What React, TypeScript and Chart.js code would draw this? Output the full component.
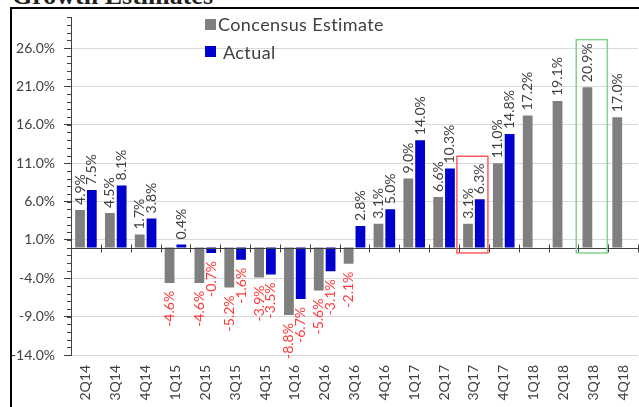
import React, { useEffect, useRef } from 'react';
import { Chart, registerables } from 'chart.js';

Chart.register(...registerables);

const categories = ['2Q14', '3Q14', '4Q14', '1Q15', '2Q15', '3Q15', '4Q15', '1Q16', '2Q16', '3Q16', '4Q16', '1Q17', '2Q17', '3Q17', '4Q17', '1Q18', '2Q18', '3Q18', '4Q18'];
const consensus = [4.9, 4.5, 1.7, -4.6, -4.6, -5.2, -3.9, -8.8, -5.6, -2.1, 3.1, 9.0, 6.6, 3.1, 11.0, 17.2, 19.1, 20.9, 17.0];
const actual: (number | null)[] = [7.5, 8.1, 3.8, 0.4, -0.7, -1.6, -3.5, -6.7, -3.1, 2.8, 5.0, 14.0, 10.3, 6.3, 14.8, null, null, null, null];
const yTickValues = [-14, -9, -4, 1, 6, 11, 16, 21, 26];
const yMin = -14;
const yMax = 30;
const highlights = [
  { category: '3Q17', top: 11.9, bottom: -0.7, color: '#ff5a5a' },
  { category: '3Q18', top: 27.1, bottom: -0.7, color: '#7fd48e' },
];
const seriesNames = ['Concensus Estimate', 'Actual'];
const seriesColors = ['#7f7f7f', '#0000cc'];

const FONT = 'Lato, "Open Sans", sans-serif';
const TEXT = '#404040';

const overlayPlugin = {
  id: 'overlay',
  afterDatasetsDraw(chart: any) {
    const { ctx, chartArea, scales } = chart;
    const x = scales.x;
    const y = scales.y;
    const y0 = Math.round(y.getPixelForValue(0)) + 0.5;
    ctx.save();
    ctx.strokeStyle = TEXT;
    ctx.lineWidth = 1;
    ctx.beginPath();
    ctx.moveTo(chartArea.left, y0);
    ctx.lineTo(chartArea.right, y0);
    for (let i = 1; i <= categories.length; i++) {
      const px = Math.round(x.getPixelForValue(i - 0.5)) + 0.5;
      ctx.moveTo(px, y0 - 4);
      ctx.lineTo(px, y0 + 4);
    }
    for (let v = yMin; v <= yMax; v++) {
      const py = Math.round(y.getPixelForValue(v)) + 0.5;
      ctx.moveTo(chartArea.left - 4, py);
      ctx.lineTo(chartArea.left, py);
    }
    ctx.stroke();

    // data labels
    ctx.font = `14px ${FONT}`;
    ctx.textBaseline = 'middle';
    chart.data.datasets.forEach((ds: any, di: number) => {
      const meta = chart.getDatasetMeta(di);
      meta.data.forEach((el: any, i: number) => {
        const v = ds.data[i];
        if (v === null || v === undefined) return;
        const txt = v.toFixed(1) + '%';
        ctx.save();
        ctx.translate(el.x, v >= 0 ? el.y - 5 : el.y + 8);
        ctx.rotate(-Math.PI / 2);
        ctx.fillStyle = v >= 0 ? TEXT : '#ff3838';
        ctx.textAlign = v >= 0 ? 'left' : 'right';
        ctx.fillText(txt, 0, 0);
        ctx.restore();
      });
    });

    // highlight boxes
    ctx.lineWidth = 1.5;
    highlights.forEach((h) => {
      const idx = categories.indexOf(h.category);
      const l = x.getPixelForValue(idx - 0.57);
      const r = x.getPixelForValue(idx + 0.47);
      const t = y.getPixelForValue(h.top);
      const b = y.getPixelForValue(h.bottom);
      ctx.strokeStyle = h.color;
      ctx.strokeRect(l, t, r - l, b - t);
    });
    ctx.restore();
  },
};

export default function App() {
  const canvasRef = useRef<HTMLCanvasElement | null>(null);

  useEffect(() => {
    if (!canvasRef.current) return;
    const chart = new Chart(canvasRef.current, {
      type: 'bar',
      data: {
        labels: categories,
        datasets: [
          { label: seriesNames[0], data: consensus, backgroundColor: seriesColors[0], categoryPercentage: 0.79, barPercentage: 0.83 },
          { label: seriesNames[1], data: actual as any, backgroundColor: seriesColors[1], categoryPercentage: 0.79, barPercentage: 0.83 },
        ],
      },
      options: {
        responsive: false,
        animation: false,
        layout: { padding: { top: 16, right: 3, left: 0, bottom: 0 } },
        plugins: { legend: { display: false }, tooltip: { enabled: false } },
        scales: {
          x: {
            grid: { display: false, drawTicks: false },
            border: { display: false },
            ticks: {
              autoSkip: false,
              minRotation: 90,
              maxRotation: 90,
              padding: 10,
              color: TEXT,
              font: { family: FONT, size: 14 },
            },
            afterFit(s: any) {
              s.height = 52;
            },
          },
          y: {
            min: yMin,
            max: yMax,
            afterBuildTicks(s: any) {
              s.ticks = yTickValues.map((v) => ({ value: v }));
            },
            ticks: {
              callback: (v: any) => Number(v).toFixed(1) + '%',
              color: TEXT,
              padding: 9,
              font: { family: FONT, size: 14 },
            },
            grid: { color: '#d9d9d9', tickColor: TEXT, tickLength: 7 },
            border: { color: TEXT },
            afterFit(s: any) {
              s.width = 71;
            },
          },
        },
      },
      plugins: [overlayPlugin],
    } as any);
    return () => chart.destroy();
  }, []);

  return (
    <div style={{ position: 'fixed', left: 0, top: 0, width: 639, height: 407, overflow: 'hidden', background: '#fff' }}>
      <div
        style={{
          position: 'absolute',
          left: 12,
          top: -17,
          fontFamily: '"Liberation Serif", "Times New Roman", serif',
          fontWeight: 'bold',
          fontSize: 26,
          lineHeight: '26px',
          whiteSpace: 'nowrap',
          color: '#222',
        }}
      >
        Growth Estimates
      </div>
      <div
        style={{
          position: 'absolute',
          left: 10,
          top: 7,
          width: 700,
          height: 500,
          borderTop: '2px solid #000',
          borderLeft: '2px solid #000',
        }}
      />
      <canvas ref={canvasRef} width={650} height={407} style={{ position: 'absolute', left: 0, top: 0 }} />
      <div style={{ position: 'absolute', left: 205, top: 19, width: 11, height: 11, background: seriesColors[0] }} />
      <div style={{ position: 'absolute', left: 218, top: 14, fontFamily: FONT, fontSize: 18, letterSpacing: '0.4px', lineHeight: '20px', color: TEXT, whiteSpace: 'nowrap' }}>
        {seriesNames[0]}
      </div>
      <div style={{ position: 'absolute', left: 205, top: 46, width: 11, height: 11, background: seriesColors[1] }} />
      <div style={{ position: 'absolute', left: 223, top: 42, fontFamily: FONT, fontSize: 18, letterSpacing: '0.4px', lineHeight: '20px', color: TEXT, whiteSpace: 'nowrap' }}>
        {seriesNames[1]}
      </div>
    </div>
  );
}
